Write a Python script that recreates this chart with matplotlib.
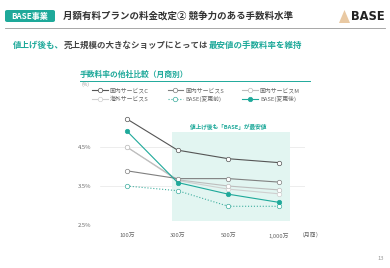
import matplotlib.pyplot as plt
import matplotlib.patches as mpatches
from matplotlib.lines import Line2D

plt.rcParams["font.family"] = ["Noto Sans CJK JP", "DejaVu Sans"]

# データ
categories = ["100万", "300万", "500万", "1,000万"]
y_ticks = [2.5, 3.5, 4.5]
y_tick_labels = ["2.5%", "3.5%", "4.5%"]

service_c = [5.22, 4.42, 4.20, 4.10]
service_s = [3.89, 3.69, 3.69, 3.60]
service_m = [4.50, 3.66, 3.50, 3.40]
overseas_s = [4.50, 3.64, 3.42, 3.30]
base_before = [3.50, 3.38, 2.98, 2.98]
base_after = [4.91, 3.59, 3.29, 3.08]

teal = "#1ea99a"
W, H = 390, 268


def fx(px):
    return px / W


def fy(py):
    return 1 - py / H


fig = plt.figure(figsize=(W / 100, H / 100), dpi=100)
fig.patch.set_facecolor("white")
renderer = fig.canvas.get_renderer()

# ヘッダー
box = mpatches.FancyBboxPatch(
    (fx(5), fy(22)), fx(50), 12 / H,
    boxstyle="round,pad=0,rounding_size=0.006",
    transform=fig.transFigure, facecolor=teal, edgecolor="none",
)
fig.patches.append(box)
fig.text(fx(30), fy(16), "BASE事業", color="white", fontsize=5.8,
         ha="center", va="center", weight="bold")
fig.text(fx(63), fy(16), "月額有料プランの料金改定② 競争力のある手数料水準",
         color="#333333", fontsize=6.8, ha="left", va="center", weight="bold")
fig.text(fx(385), fy(17), "BASE", color="#222222", fontsize=8.3,
         ha="right", va="center", weight="bold", family="DejaVu Sans")
tent = mpatches.Polygon(
    [(fx(339), fy(23)), (fx(344.5), fy(10)), (fx(350), fy(23))],
    closed=True, transform=fig.transFigure, facecolor="#e9c9a3", edgecolor="none",
)
fig.patches.append(tent)
fig.add_artist(Line2D([fx(5), fx(385)], [fy(28), fy(28)],
                      transform=fig.transFigure, color="#999999", lw=0.6))

# サブタイトル（色分けした部分を順に並べる）
sub_parts = [
    ("値上げ後も、", teal),
    ("売上規模の大きなショップにとっては", "#444444"),
    ("最安値の手数料率を維持", teal),
]
x0 = 13
for txt, col in sub_parts:
    t = fig.text(fx(x0), fy(45), txt, color=col, fontsize=6.1, ha="left",
                 va="center", weight="bold")
    x0 += t.get_window_extent(renderer).width

# グラフタイトル
fig.text(fx(80), fy(74), "手数料率の他社比較（月商別）", color=teal,
         fontsize=5.6, ha="left", va="center", weight="bold")
fig.add_artist(Line2D([fx(80), fx(310)], [fy(80.5), fy(80.5)],
                      transform=fig.transFigure, color=teal, lw=0.7))
fig.text(fx(85), fy(84), "(%)", color="#999999", fontsize=3.5,
         ha="center", va="center")

# グラフ
ax = fig.add_axes([fx(100), fy(225), fx(205), (225 - 110) / H])
x = list(range(len(categories)))
ax.set_xlim(-0.53, 3.51)
ax.set_ylim(2.5, 5.45)

ax.add_patch(mpatches.Rectangle((0.89, 2.61), 2.33, 2.27,
                                facecolor="#e2f5f1", edgecolor="none", zorder=1))
ax.text(1.99, 5.02, "値上げ後も「BASE」が最安値", color=teal, fontsize=4.1,
        ha="center", va="center", weight="bold", zorder=6)

for yv in y_ticks:
    ax.axhline(yv, color="#e6e6e6", lw=0.5, zorder=0.5)

series = [
    ("国内サービスC", service_c, "#555555", "-", "white"),
    ("海外サービスS", overseas_s, "#cfcfcf", "-", "white"),
    ("国内サービスS", service_s, "#808080", "-", "white"),
    ("BASE(変更前)", base_before, "#3fae9f", ":", "white"),
    ("国内サービスM", service_m, "#bdbdbd", "-", "white"),
    ("BASE(変更後)", base_after, teal, "-", teal),
]
order_z = [3, 2, 3, 4, 2.5, 5]
handles = []
for (name, vals, col, ls, mfc), z in zip(series, order_z):
    (h,) = ax.plot(x, vals, color=col, ls=ls, lw=0.8, marker="o", ms=3.2,
                   mfc=mfc, mec=col, mew=0.5, label=name, zorder=z)
    handles.append(h)

ax.set_xticks(x)
ax.set_xticklabels(categories)
ax.set_yticks(y_ticks)
ax.set_yticklabels(y_tick_labels)
ax.tick_params(length=0, labelsize=4.2, colors="#666666", pad=6)
for s in ax.spines.values():
    s.set_visible(False)
ax.set_facecolor("none")

fig.text(fx(311), fy(235), "（月商）", color="#666666", fontsize=4.2,
         ha="center", va="center")

fig.legend(handles=handles, ncol=3, loc="upper left",
           bbox_to_anchor=(fx(90), fy(85)), frameon=False, fontsize=4.2,
           handlelength=2.6, handletextpad=0.4, columnspacing=3.2,
           labelspacing=0.45, borderaxespad=0, labelcolor="#666666")

fig.text(fx(381), fy(258), "13", color="#999999", fontsize=4.2,
         ha="center", va="center")

fig.savefig("out.png", dpi=100, facecolor="white")
